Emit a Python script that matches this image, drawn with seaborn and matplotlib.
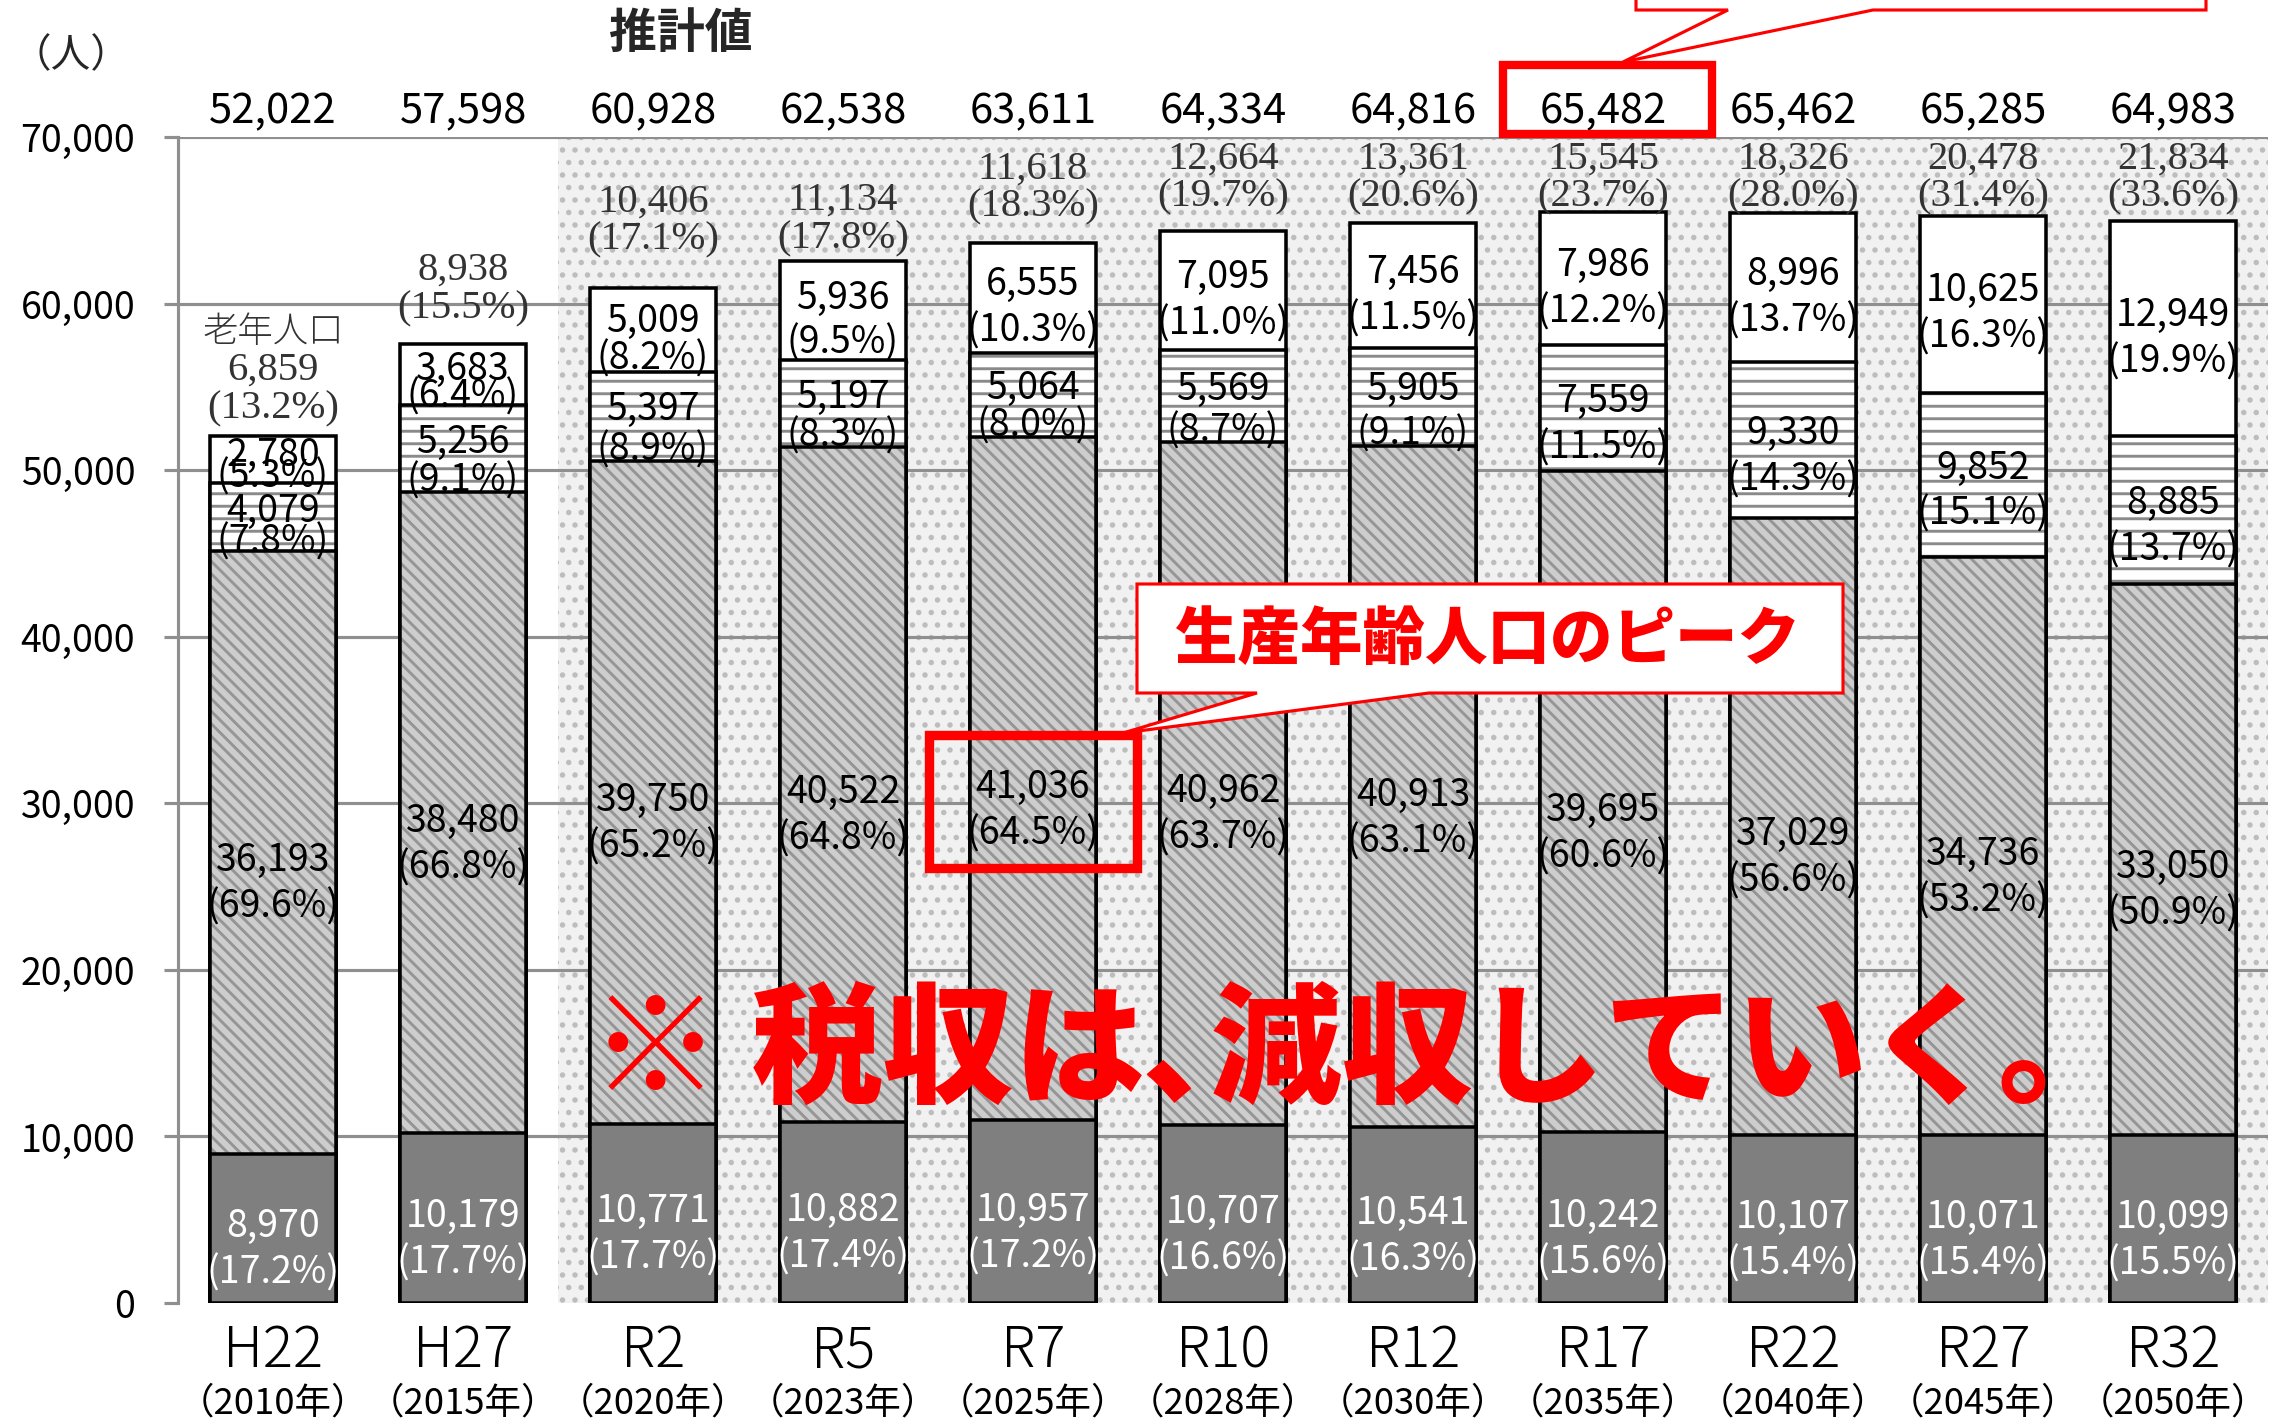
import numpy as np
import pandas as pd
import matplotlib
matplotlib.use("Agg")
import matplotlib.pyplot as plt
import matplotlib.transforms as mtrans
from matplotlib.patches import Polygon, Rectangle
import seaborn as sns

# ---------------- data ----------------
categories = ["H22", "H27", "R2", "R5", "R7", "R10", "R12", "R17", "R22", "R27", "R32"]
years = ["（2010年）", "（2015年）", "（2020年）", "（2023年）", "（2025年）", "（2028年）",
         "（2030年）", "（2035年）", "（2040年）", "（2045年）", "（2050年）"]
young = [8970, 10179, 10771, 10882, 10957, 10707, 10541, 10242, 10107, 10071, 10099]
young_pct = [17.2, 17.7, 17.7, 17.4, 17.2, 16.6, 16.3, 15.6, 15.4, 15.4, 15.5]
working = [36193, 38480, 39750, 40522, 41036, 40962, 40913, 39695, 37029, 34736, 33050]
working_pct = [69.6, 66.8, 65.2, 64.8, 64.5, 63.7, 63.1, 60.6, 56.6, 53.2, 50.9]
early_old = [4079, 5256, 5397, 5197, 5064, 5569, 5905, 7559, 9330, 9852, 8885]
early_old_pct = [7.8, 9.1, 8.9, 8.3, 8.0, 8.7, 9.1, 11.5, 14.3, 15.1, 13.7]
late_old = [2780, 3683, 5009, 5936, 6555, 7095, 7456, 7986, 8996, 10625, 12949]
late_old_pct = [5.3, 6.4, 8.2, 9.5, 10.3, 11.0, 11.5, 12.2, 13.7, 16.3, 19.9]
elderly = [6859, 8938, 10406, 11134, 11618, 12664, 13361, 15545, 18326, 20478, 21834]
elderly_pct = [13.2, 15.5, 17.1, 17.8, 18.3, 19.7, 20.6, 23.7, 28.0, 31.4, 33.6]
totals = [52022, 57598, 60928, 62538, 63611, 64334, 64816, 65482, 65462, 65285, 64983]
yticks = [0, 10000, 20000, 30000, 40000, 50000, 60000, 70000]

# annotation placement (label heights for the 老年人口 block)
elder_label_y = [53700, 59700, 63800, 63900, 65800, 66400, 66400, 66400, 66400, 66400, 66400]

# ---------------- figure ----------------
W, H, DPI = 2279, 1426, 150
sns.set_theme(style="white")
plt.rcParams["font.family"] = ["Noto Sans CJK JP", "DejaVu Sans"]
plt.rcParams["hatch.linewidth"] = 1.4

fig = plt.figure(figsize=(W / DPI, H / DPI), dpi=DPI)
fig.patch.set_facecolor("white")
ax = fig.add_axes([178 / W, 1 - 1303 / H, (2268 - 178) / W, (1303 - 137) / H])


def fx(px):
    return px / W


def fy(py):
    return 1 - py / H


df = pd.DataFrame({"cat": categories, "young": young, "working": working,
                   "early": early_old, "late": late_old})
df["c1"] = df["young"]
df["c2"] = df["c1"] + df["working"]
df["c3"] = df["c2"] + df["early"]
df["c4"] = df["c3"] + df["late"]

# estimate-period background
ax.axvspan(1.5, 10.5, facecolor="#f1f1f1", edgecolor="#bdbdbd", hatch="..",
           linewidth=0, zorder=0.2)

bw = 0.66
edge_lw = 1.7
common = dict(x="cat", order=categories, width=bw, errorbar=None, saturation=1, ax=ax)
sns.barplot(data=df, y="c4", color="white", edgecolor="black", linewidth=edge_lw, **common)
sns.barplot(data=df, y="c3", color="white", edgecolor="#8a8a8a", linewidth=0, hatch="--", **common)
sns.barplot(data=df, y="c3", color="black", fill=False, linewidth=edge_lw, **common)
sns.barplot(data=df, y="c2", color="#cdcdcd", edgecolor="#959595", linewidth=0,
            hatch="\\\\\\\\", **common)
sns.barplot(data=df, y="c2", color="black", fill=False, linewidth=edge_lw, **common)
sns.barplot(data=df, y="c1", color="#7f7f7f", edgecolor="black", linewidth=edge_lw, **common)

ax.set_xlim(-0.5, 10.5)
ax.set_ylim(0, 70000)
ax.set_yticks(yticks)
ax.set_yticklabels([f"{v:,}" for v in yticks])
ax.set_xlabel("")
ax.set_ylabel("")
ax.set_axisbelow(True)
ax.yaxis.grid(True, color="#8f8f8f", linewidth=1.5)
ax.xaxis.grid(False)
ax.yaxis.get_gridlines()[0].set_visible(False)
for s in ["top", "right", "bottom"]:
    ax.spines[s].set_visible(False)
ax.spines["left"].set_color("#8f8f8f")
ax.spines["left"].set_linewidth(1.5)
ax.tick_params(axis="y", left=True, length=6.5, width=1.5, color="#8f8f8f", pad=14,
               labelsize=18, labelcolor="black")
ax.tick_params(axis="x", bottom=False, length=0, pad=9, labelsize=27, labelcolor="black")
for lab in ax.get_xticklabels():
    lab.set_fontweight("light")
ax.set_facecolor("white")

blend = mtrans.blended_transform_factory(ax.transData, ax.transAxes)

# totals and years
for i, t in enumerate(totals):
    ax.text(i, 1.0214, f"{t:,}", transform=blend, ha="center", va="center",
            fontsize=20, color="black", clip_on=False)
    ax.text(i, -0.0862, years[i], transform=blend, ha="center", va="center",
            fontsize=17.5, color="black", clip_on=False)

# elderly (老年人口) labels
serif = ["Liberation Serif", "Noto Sans CJK JP"]
for i in range(len(categories)):
    y0 = elder_label_y[i]
    ax.text(i, y0, f"({elderly_pct[i]:.1f}%)", family=serif, fontsize=19.5,
            color="#333333", ha="center", va="center", zorder=6)
    ax.text(i, y0 + 2300, f"{elderly[i]:,}", family=serif, fontsize=19.5,
            color="#333333", ha="center", va="center", zorder=6)
    if i == 0:
        ax.text(i, y0 + 4600, "老年人口", fontsize=17, color="#333333",
                ha="center", va="center", zorder=6, fontweight="light")


def seg_label(i, bottom, val, pct, shift, color):
    center = bottom + val / 2 - min(shift, 0.15 * val)
    gap = float(np.clip(0.45 * val, 1300, 2800))
    ax.text(i, center + gap / 2, f"{val:,}", ha="center", va="center",
            fontsize=18, color=color, zorder=6)
    ax.text(i, center - gap / 2, f"({pct:.1f}%)", ha="center", va="center",
            fontsize=18, color=color, zorder=6)


for i in range(len(categories)):
    seg_label(i, 0, young[i], young_pct[i], 1300, "white")
    seg_label(i, df["c1"][i], working[i], working_pct[i], 1900, "black")
    seg_label(i, df["c2"][i], early_old[i], early_old_pct[i], 1000, "black")
    seg_label(i, df["c3"][i], late_old[i], late_old_pct[i], 600, "black")

# ---------------- annotations (figure pixels) ----------------
red = "#ff0000"
tf = fig.transFigure

# header texts
fig.text(fx(71), fy(56), "（人）", fontsize=19, ha="center", va="center")
fig.text(fx(681), fy(33), "推計値", fontsize=23, ha="center", va="center", fontweight="bold")

# big statement
fig.text(fx(1360), fy(1053), "※ 税収は､減収していく。", color=red, fontsize=63,
         fontweight="heavy", ha="center", va="center")

# callout: 生産年齢人口のピーク
pts1 = [(1137, 584), (1843, 584), (1843, 693), (1429, 693), (1123, 733),
        (1257, 693), (1137, 693)]
fig.patches.append(Polygon([(fx(a), fy(b)) for a, b in pts1], closed=True,
                           facecolor="white", edgecolor=red, linewidth=1.5,
                           transform=tf, figure=fig, zorder=5))
fig.text(fx(1488), fy(640), "生産年齢人口のピーク", color=red, fontsize=30,
         fontweight="heavy", ha="center", va="center", zorder=6)

# rectangle around R7 working-age label
fig.patches.append(Rectangle((fx(929), fy(868)), fx(1137) - fx(929), fy(735) - fy(868),
                             fill=False, edgecolor=red, linewidth=4.5, transform=tf,
                             figure=fig, zorder=5))

# top callout (cut off) and rectangle around 65,482
pts2 = [(1636, -60), (2206, -60), (2206, 10), (1873, 10), (1623, 62), (1728, 10),
        (1636, 10)]
fig.patches.append(Polygon([(fx(a), fy(b)) for a, b in pts2], closed=True,
                           facecolor="white", edgecolor=red, linewidth=1.5,
                           transform=tf, figure=fig, zorder=5, clip_on=False))
fig.patches.append(Rectangle((fx(1503), fy(134)), fx(1712) - fx(1503), fy(65) - fy(134),
                             fill=False, edgecolor=red, linewidth=4.0, transform=tf,
                             figure=fig, zorder=5))

fig.savefig("out.png", dpi=DPI, facecolor="white")
